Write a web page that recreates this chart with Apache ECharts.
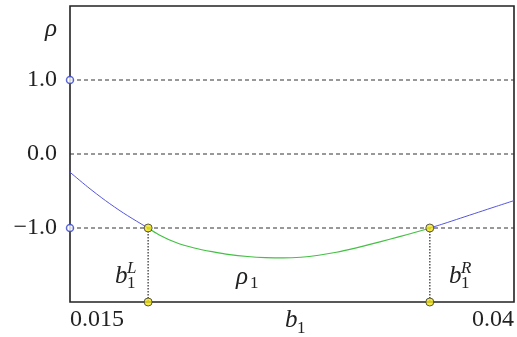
<!DOCTYPE html>
<html>
<head>
<meta charset="utf-8">
<script src="https://cdn.jsdelivr.net/npm/echarts@6/dist/echarts.min.js"></script>
<style>html,body{margin:0;padding:0;background:#fff;}#c{width:517px;height:337px;}</style>
</head>
<body>
<div id="c"></div>
<script>
// ---- data ----
const bL = 0.0194;
const bR = 0.03526;
const curveX = [0.015,0.016,0.017,0.018,0.019,0.0194,0.020,0.021,0.022,0.023,0.024,0.025,0.026,0.027,0.028,0.029,0.030,0.031,0.032,0.033,0.034,0.035,0.03526,0.036,0.037,0.038,0.039,0.040];
const curveY = [-0.246,-0.446,-0.630,-0.796,-0.944,-1.0,-1.09,-1.20,-1.27,-1.32,-1.36,-1.385,-1.40,-1.405,-1.395,-1.368,-1.328,-1.275,-1.215,-1.152,-1.088,-1.02,-1.0,-0.945,-0.866,-0.787,-0.708,-0.63];
const rhoLevels = [1.0, 0.0, -1.0];
const yTickValues = [1, 0, -1];
const yTickLabels = ['1.0', '0.0', '\u22121.0'];
const xTickValues = [0.015, 0.04];
const xTickLabels = ['0.015', '0.04'];
const xMin = 0.015, xMax = 0.04, yMin = -2, yMax = 2;

// ---- build ----
const pts = curveX.map((x, i) => [x, curveY[i]]);
const leftPts = pts.filter(p => p[0] <= bL);
const midPts = pts.filter(p => p[0] >= bL && p[0] <= bR);
const rightPts = pts.filter(p => p[0] >= bR);

const chart = echarts.init(document.getElementById('c'), null, {renderer: 'canvas'});
const serif = 'Liberation Serif, Times New Roman, Tinos, serif';
const lineCommon = {type: 'line', showSymbol: false, smooth: 0.3, animation: false, z: 3};

function gtext(text, x, y, size, italic) {
  return {type: 'text', z: 10, style: {text: text, x: x, y: y, fill: '#222',
    font: (italic ? 'italic ' : '') + size + 'px ' + serif, textAlign: 'left', textVerticalAlign: 'bottom'}};
}

chart.setOption({
  animation: false,
  grid: {left: 70, right: 2, top: 6, bottom: 35, show: true, borderColor: '#222', borderWidth: 1.6, backgroundColor: 'transparent'},
  xAxis: {
    type: 'value', min: xMin, max: xMax,
    axisLine: {show: false}, axisTick: {show: false}, splitLine: {show: false},
    axisLabel: {
      customValues: xTickValues,
      formatter: v => { const i = xTickValues.findIndex(t => Math.abs(t - v) < 1e-9); return i >= 0 ? xTickLabels[i] : ''; },
      fontFamily: serif, fontSize: 24, color: '#222', margin: 6,
      alignMinLabel: 'left', alignMaxLabel: 'right'
    }
  },
  yAxis: {
    type: 'value', min: yMin, max: yMax, interval: 1,
    axisLine: {show: false}, axisTick: {show: false},
    splitLine: {show: false},
    axisLabel: {
      formatter: v => { const i = yTickValues.indexOf(v); return i >= 0 ? yTickLabels[i] : ''; },
      fontFamily: serif, fontSize: 24, color: '#222', margin: 13
    }
  },
  series: [
    ...rhoLevels.map(r => ({
      type: 'line', showSymbol: false, animation: false, z: 2,
      data: [[xMin, r], [xMax, r]],
      lineStyle: {color: '#333', width: 1, type: [4, 3]}
    })),
    Object.assign({}, lineCommon, {data: leftPts, lineStyle: {color: '#5555dd', width: 1}}),
    Object.assign({}, lineCommon, {data: midPts, lineStyle: {color: '#44c044', width: 1.2}}),
    Object.assign({}, lineCommon, {data: rightPts, lineStyle: {color: '#5555dd', width: 1}}),
    ...[bL, bR].map(b => ({
      type: 'line', showSymbol: false, animation: false, z: 2,
      data: [[b, -1], [b, yMin]],
      lineStyle: {color: '#555', width: 1.5, type: [1.5, 1.5]}
    })),
    {
      type: 'scatter', clip: false, animation: false, z: 5, symbolSize: 7,
      data: [[xMin, 1], [xMin, -1]],
      itemStyle: {color: '#fff', borderColor: '#3344cc', borderWidth: 1.5}
    },
    {
      type: 'scatter', clip: false, animation: false, z: 5, symbolSize: 8,
      data: [[bL, -1], [bR, -1], [bL, yMin], [bR, yMin]],
      itemStyle: {color: '#f2e41a', borderColor: '#333', borderWidth: 1}
    }
  ],
  graphic: [
    gtext('\u03c1', 45, 42, 25, true),
    gtext('b', 115, 289, 25, true),
    gtext('1', 127, 292, 17, false),
    gtext('L', 127, 277, 17, true),
    gtext('\u03c1', 236, 290, 25, true),
    gtext('1', 250, 292, 17, false),
    gtext('b', 449, 289, 25, true),
    gtext('1', 461, 292, 17, false),
    gtext('R', 461, 277, 17, true),
    gtext('b', 285, 333, 25, true),
    gtext('1', 297, 337, 17, false)
  ]
});
</script>
</body>
</html>
